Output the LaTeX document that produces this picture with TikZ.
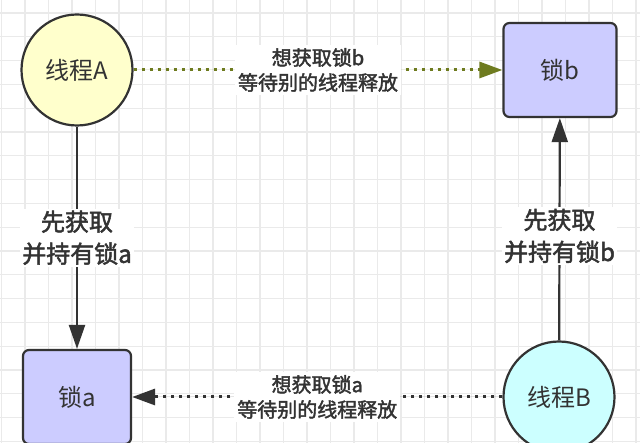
\documentclass[tikz,border=0pt]{standalone}
\usepackage{fontspec}
\setmainfont{Noto Sans CJK SC}
\newfontfamily\medfont[FakeBold=2]{Noto Sans CJK SC}
\usetikzlibrary{arrows.meta}
\definecolor{gridc}{HTML}{EAEAEA}
\definecolor{edgec}{HTML}{333333}
\definecolor{olivec}{HTML}{6E7B1F}
\definecolor{yellowc}{HTML}{FFFFCC}
\definecolor{cyanc}{HTML}{CCFFFF}
\definecolor{lockc}{HTML}{CCCCFF}
\definecolor{textc}{HTML}{333333}
\tikzset{
  thread/.style={circle,draw=edgec,line width=2.2pt,minimum size=111pt,inner sep=0pt,
    font=\fontsize{24}{28}\selectfont,text=textc},
  lockbox/.style={rectangle,rounded corners=6pt,draw=edgec,line width=2.2pt,
    minimum width=110pt,minimum height=94pt,inner sep=0pt,fill=lockc,
    font=\fontsize{24}{28}\selectfont,text=textc},
  holdlabel/.style={fill=white,align=center,inner sep=2pt,text=textc,
    font=\fontsize{24}{32}\selectfont\medfont},
  waitlabel/.style={fill=white,align=center,inner sep=3pt,text=textc,
    font=\fontsize{20}{25}\selectfont\medfont},
  solidarrow/.style={draw=edgec,line width=2.2pt,-{Triangle[length=24pt,width=16pt]}},
  dotarrow/.style={line width=3pt,dash pattern=on 3pt off 5pt,
    -{Triangle[length=23pt,width=16pt]}}
}
\begin{document}
\begin{tikzpicture}[x=1pt,y=-1pt]
\fill[white] (0,0) rectangle (640,443);
\useasboundingbox (0,0) rectangle (640,443);
\foreach \i in {0,...,27} {
  \pgfmathsetmacro{\gx}{1.5+23.5*\i}
  \draw[gridc,line width=1.2pt] (\gx,0) -- (\gx,443);
}
\foreach \j in {0,...,18} {
  \pgfmathsetmacro{\gy}{13+23.8*\j}
  \draw[gridc,line width=1.2pt] (0,\gy) -- (640,\gy);
}
\node[thread,fill=yellowc] (tA) at (77,70) {线程A};
\node[lockbox,minimum width=113pt] (lb) at (560,70) {锁b};
\node[lockbox,minimum width=108pt] (la) at (77,397) {锁a};
\node[thread,fill=cyanc] (tB) at (559,397) {线程B};

\draw[solidarrow] (tA) -- node[holdlabel,pos=0.5] (hA) {先获取\\并持有锁a} (la);
\draw[solidarrow] (tB) -- node[holdlabel,pos=0.47] (hB) {先获取\\并持有锁b} (lb);
\draw[dotarrow,draw=olivec,fill=olivec] (tA) -- node[waitlabel] (wA) {想获取锁b\\等待别的线程释放} (lb);
\draw[dotarrow,draw=edgec,fill=edgec] (tB) -- node[waitlabel] (wB) {想获取锁a\\等待别的线程释放} (la);
\end{tikzpicture}
\end{document}
